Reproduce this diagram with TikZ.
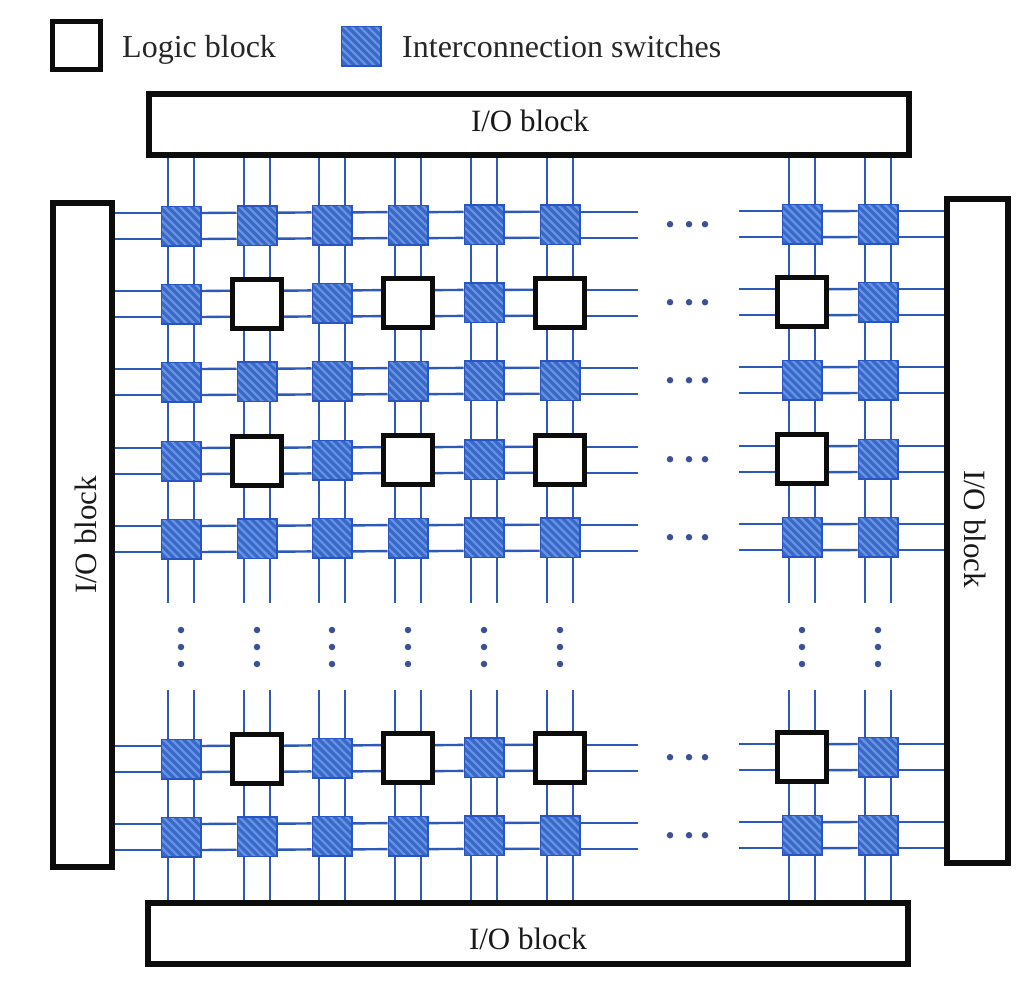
\documentclass[tikz,border=0pt]{standalone}
\usepackage{fontspec}
\setmainfont{Liberation Serif}
\usetikzlibrary{backgrounds}
\definecolor{wire}{RGB}{45,90,185}
\definecolor{swfill}{RGB}{55,105,200}
\definecolor{swhatch}{RGB}{105,145,225}
\definecolor{swedge}{RGB}{40,85,195}
\definecolor{dotc}{RGB}{60,80,150}
\definecolor{ink}{RGB}{12,12,12}
\tikzset{
  x=1pt,y=-1pt,
  swbox/.style={draw=swedge,line width=1.5pt,fill=swfill,minimum size=39.5pt,inner sep=0pt,
    path picture={
      \foreach \k in {-60,-52,...,60}{
        \draw[swhatch,line width=2.2pt]
          ([xshift=\k pt,yshift=30pt]path picture bounding box.center) --
          ([xshift=\k pt+60pt,yshift=-30pt]path picture bounding box.center);
      }}},
  logicbox/.style={draw=ink,line width=5pt,fill=white,minimum size=49pt,inner sep=0pt},
  iobox/.style={draw=ink,line width=6pt,fill=white,inner sep=0pt},
  iotext/.style={inner sep=0pt,text=black!90,font=\fontsize{31}{33}\selectfont},
  wirel/.style={draw=wire,line width=2.4pt},
  dotn/.style={circle,fill=dotc,minimum size=6.5pt,inner sep=0pt},
  lab/.style={anchor=base west,inner sep=0pt,text=black!85,font=\fontsize{32}{34}\selectfont},
}
\begin{document}
\begin{tikzpicture}
\useasboundingbox (0,0) rectangle (1026,991);
% I/O blocks
\node[iobox,minimum width=760pt,minimum height=61pt] (T) at (529,124.5) {};
\node[iobox,minimum width=760pt,minimum height=61pt] (B) at (528,933.5) {};
\node[iobox,minimum width=59pt,minimum height=664pt] (L) at (82.5,535) {};
\node[iobox,minimum width=61pt,minimum height=664pt] (R) at (977.5,531) {};
\node[iotext] (Tt) at (530,121) {I/O block};
\node[iotext] (Bt) at (528,939) {I/O block};
\node[iotext,rotate=90] (Lt) at (86,535) {I/O block};
\node[iotext,rotate=-90] (Rt) at (975,529) {I/O block};
% legend
\node[logicbox,minimum size=48pt] (legL) at (76.5,45.5) {};
\node[lab] (legLt) at (122,57.5) {Logic block};
\node[swbox] (legS) at (361,46) {};
\node[lab] (legSt) at (402,57.5) {Interconnection switches};
% grid cells
\foreach \c/\cx/\tilt [count=\ci] in {1/181/0,2/257/0.3,3/332/0.6,4/408/0.9,5/484/1.1,6/560/1.3,7/802/1.8,8/878/2}{
  \foreach \r/\ry [count=\ri] in {1/226,2/304,3/382,4/461,5/539,6/759,7/837}{
    \pgfmathtruncatemacro{\islogic}{(\r==2||\r==4||\r==6)&&(\c==2||\c==4||\c==6||\c==7)?1:0}
    \ifnum\islogic=1
      \node[logicbox] (n\c-\r) at (\cx,\ry-\tilt) {};
    \else
      \node[swbox] (n\c-\r) at (\cx,\ry-\tilt) {};
    \fi
  }
}
% dots
\foreach \r in {1,2,3,4,5,6,7}{
  \foreach \dx [count=\i] in {-132,-113,-97}{
    \node[dotn] (hd\r-\i) at ([xshift=\dx pt]n7-\r.center) {};
  }
}
\foreach \c/\cx in {1/181,2/257,3/332,4/408,5/484,6/560,7/802,8/878}{
  \foreach \dy [count=\i] in {630,647,664}{
    \node[dotn] (vd\c-\i) at (\cx,\dy) {};
  }
}
% free ends
\coordinate (gapL) at (638,0);
\coordinate (gapR) at (739,0);
\coordinate (gapT) at (0,603);
\coordinate (gapB) at (0,690);
\begin{pgfonlayer}{background}
\fill[white] (0,0) rectangle (1026,991);
\foreach \s in {-13,13}{
  % horizontal
  \foreach \r in {1,2,3,4,5,6,7}{
    \draw[wirel] ([yshift=\s pt]n1-\r.west -| L.east) -- ([yshift=\s pt]n1-\r.west);
    \foreach \a/\b in {1/2,2/3,3/4,4/5,5/6,7/8}{
      \draw[wirel] ([yshift=\s pt]n\a-\r.east) -- ([yshift=\s pt]n\b-\r.west);
    }
    \draw[wirel] ([yshift=\s pt]n6-\r.east) -- ([yshift=\s pt]n6-\r.east -| gapL);
    \draw[wirel] ([yshift=\s pt]n7-\r.west -| gapR) -- ([yshift=\s pt]n7-\r.west);
    \draw[wirel] ([yshift=\s pt]n8-\r.east) -- ([yshift=\s pt]n8-\r.east -| R.west);
  }
  % vertical
  \foreach \c in {1,2,3,4,5,6,7,8}{
    \draw[wirel] ([xshift=\s pt]n\c-1.north |- T.south) -- ([xshift=\s pt]n\c-1.north);
    \foreach \a/\b in {1/2,2/3,3/4,4/5,6/7}{
      \draw[wirel] ([xshift=\s pt]n\c-\a.south) -- ([xshift=\s pt]n\c-\b.north);
    }
    \draw[wirel] ([xshift=\s pt]n\c-5.south) -- ([xshift=\s pt]n\c-5.south |- gapT);
    \draw[wirel] ([xshift=\s pt]n\c-6.north |- gapB) -- ([xshift=\s pt]n\c-6.north);
    \draw[wirel] ([xshift=\s pt]n\c-7.south) -- ([xshift=\s pt]n\c-7.south |- B.north);
  }
}
\end{pgfonlayer}
\end{tikzpicture}
\end{document}
